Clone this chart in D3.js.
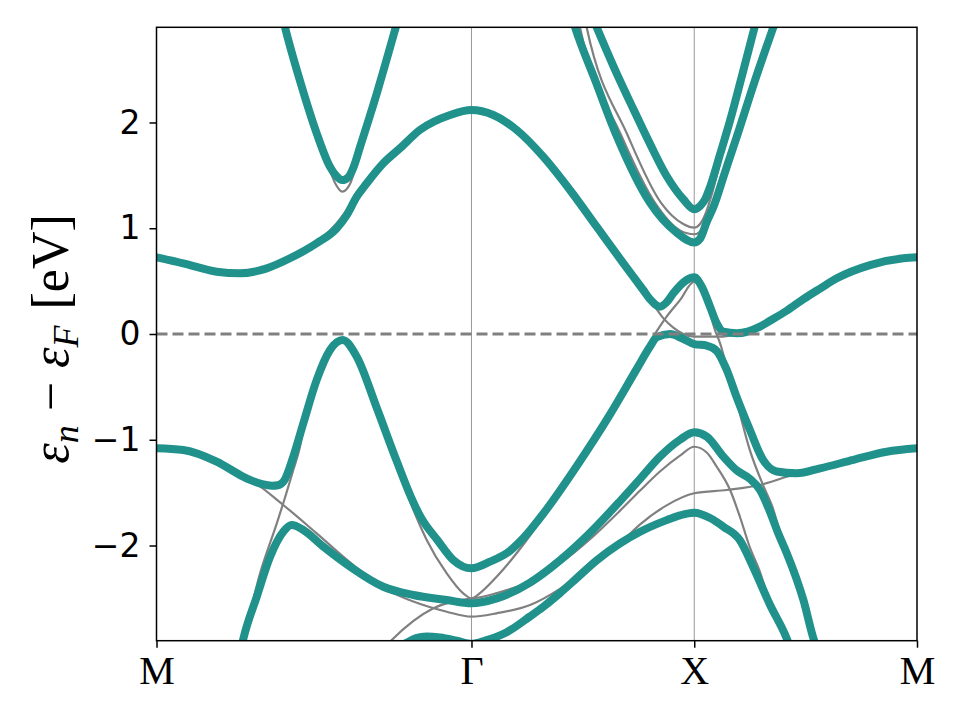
<!DOCTYPE html>
<html><head><meta charset="utf-8">
<script src="https://cdn.jsdelivr.net/npm/d3@7"></script>
<style>body{margin:0;background:#fff}</style>
</head><body>
<svg id="chart" width="960" height="720"></svg>
<script>
// ---- axis data ----
const kLabels = ["M", "Γ", "X", "M"];
const kPositions = [0, 1.414, 2.414, 3.414];
const yTickValues = [-2, -1, 0, 1, 2];
const energyRange = [-2.9, 2.9];
const fermiLevel = 0;

// ---- bare (gray) bands: [k, E] ----
const grayUpperV = [[0.570,2.96],[0.577,2.90],[0.652,2.339],[0.719,1.898],[0.770,1.60],[0.801,1.43],[0.834,1.346],[0.869,1.42],[0.900,1.62],[0.989,2.276],[1.074,2.90],[1.082,2.96]];
const grayBand1 = [[0,0.725],[0.120,0.668],[0.270,0.589],[0.375,0.574],[0.495,0.621],[0.599,0.716],[0.719,0.862],[0.809,1.047],[0.854,1.17],[0.899,1.29],[0.944,1.42],[1.018,1.61],[1.093,1.75],[1.183,1.92],[1.318,2.055],[1.414,2.095],[1.512,2.055],[1.617,1.915],[1.736,1.665],[1.856,1.35],[1.976,1.005],[2.096,0.66],[2.185,0.41],[2.230,0.28],[2.275,0.15],[2.320,0.06],[2.365,0.0],[2.414,-0.025],[2.530,-0.025],[2.605,0.0],[2.709,0.07],[2.754,0.125],[2.829,0.22],[2.904,0.33],[2.979,0.43],[3.054,0.527],[3.203,0.652],[3.353,0.716],[3.414,0.725]];
const grayBandC = [[0.379,-2.95],[0.390,-2.88],[0.465,-2.263],[0.540,-1.79],[0.569,-1.60],[0.614,-1.286],[0.644,-1.066],[0.659,-0.90],[0.719,-0.45],[0.779,-0.16],[0.836,-0.065],[0.899,-0.225],[0.989,-0.72],[1.078,-1.22],[1.138,-1.58],[1.213,-1.947],[1.303,-2.263],[1.377,-2.452],[1.414,-2.50],[1.452,-2.45],[1.527,-2.295],[1.662,-1.948],[1.736,-1.728],[1.856,-1.35],[1.976,-0.971],[2.081,-0.60],[2.156,-0.32],[2.201,-0.13],[2.253,0.05],[2.290,0.164],[2.350,0.32],[2.414,0.495],[2.448,0.416],[2.485,0.196],[2.507,0.038],[2.530,-0.088],[2.552,-0.246],[2.606,-0.65],[2.664,-1.10],[2.723,-1.43],[2.769,-1.66],[2.814,-2.0],[2.871,-2.35],[2.904,-2.55],[2.949,-2.88],[2.965,-2.97]];
const grayBandD = [[1.030,-2.95],[1.056,-2.894],[1.243,-2.594],[1.414,-2.50],[1.452,-2.49],[1.527,-2.45],[1.677,-2.34],[1.811,-2.17],[1.946,-1.94],[2.081,-1.67],[2.171,-1.48],[2.260,-1.30],[2.350,-1.15],[2.414,-1.066],[2.470,-1.12],[2.515,-1.255],[2.575,-1.475],[2.619,-1.728],[2.664,-2.02],[2.709,-2.25],[2.754,-2.55],[2.829,-2.878],[2.844,-2.96]];
const grayBandE = [[0,-1.081],[0.120,-1.097],[0.270,-1.207],[0.390,-1.35],[0.420,-1.38],[0.569,-1.617],[0.719,-1.885],[0.869,-2.16],[1.018,-2.40],[1.153,-2.53],[1.303,-2.626],[1.414,-2.673],[1.527,-2.641],[1.677,-2.563],[1.811,-2.41],[1.946,-2.20],[2.081,-1.98],[2.171,-1.80],[2.290,-1.62],[2.414,-1.506],[2.560,-1.475],[2.709,-1.428],[2.829,-1.35],[2.934,-1.286],[2.979,-1.27],[3.128,-1.19],[3.278,-1.113],[3.414,-1.081]];
const grayXV1 = [[1.925,2.96],[1.931,2.90],[2.117,1.87],[2.265,1.24],[2.365,1.04],[2.414,1.005],[2.440,1.04],[2.467,1.15],[2.494,1.33],[2.530,1.62],[2.575,2.0],[2.628,2.42],[2.691,2.95]];
const grayXV2 = [[1.895,2.96],[1.901,2.90],[2.088,1.87],[2.238,1.24],[2.350,0.98],[2.414,0.943],[2.440,0.97],[2.470,1.07],[2.500,1.20],[2.552,1.53],[2.605,1.866],[2.687,2.40],[2.769,2.90],[2.779,2.96]];

// ---- dressed (teal) bands: [k, E] ----
const tealUpperV = [[0.570,2.96],[0.577,2.90],[0.652,2.339],[0.719,1.898],[0.779,1.58],[0.809,1.49],[0.834,1.455],[0.860,1.48],[0.885,1.58],[0.914,1.771],[0.989,2.276],[1.074,2.90],[1.082,2.96]];
const tealBand2 = [[0,0.725],[0.120,0.668],[0.270,0.589],[0.375,0.574],[0.495,0.621],[0.599,0.716],[0.719,0.858],[0.809,1.0],[0.854,1.125],[0.899,1.298],[0.944,1.425],[1.018,1.614],[1.093,1.756],[1.183,1.93],[1.318,2.071],[1.414,2.118],[1.512,2.071],[1.617,1.929],[1.736,1.677],[1.856,1.362],[1.976,1.015],[2.096,0.668],[2.185,0.416],[2.215,0.33],[2.260,0.258],[2.290,0.30],[2.320,0.385],[2.380,0.511],[2.414,0.536],[2.448,0.447],[2.485,0.258],[2.515,0.101],[2.545,0.022],[2.605,0.007],[2.709,0.07],[2.754,0.125],[2.829,0.22],[2.904,0.33],[2.979,0.43],[3.054,0.527],[3.203,0.652],[3.353,0.716],[3.414,0.725]];
const tealBand3 = [[0,-1.081],[0.120,-1.097],[0.270,-1.207],[0.390,-1.35],[0.420,-1.38],[0.474,-1.42],[0.519,-1.435],[0.545,-1.43],[0.572,-1.39],[0.614,-1.16],[0.659,-0.845],[0.719,-0.435],[0.779,-0.151],[0.836,-0.057],[0.899,-0.215],[0.989,-0.70],[1.078,-1.20],[1.138,-1.52],[1.183,-1.72],[1.265,-1.96],[1.332,-2.137],[1.414,-2.216],[1.497,-2.153],[1.587,-2.05],[1.647,-1.93],[1.736,-1.70],[1.886,-1.25],[2.036,-0.76],[2.156,-0.33],[2.215,-0.12],[2.246,-0.03],[2.305,0.0],[2.359,-0.04],[2.414,-0.095],[2.470,-0.11],[2.515,-0.16],[2.560,-0.34],[2.605,-0.60],[2.664,-0.908],[2.723,-1.19],[2.784,-1.30],[2.874,-1.317],[2.979,-1.27],[3.128,-1.19],[3.278,-1.113],[3.414,-1.081]];
const tealBand4 = [[0.379,-2.98],[0.390,-2.88],[0.450,-2.484],[0.510,-2.106],[0.569,-1.87],[0.607,-1.806],[0.659,-1.853],[0.749,-2.011],[0.869,-2.2],[1.018,-2.39],[1.153,-2.468],[1.303,-2.515],[1.414,-2.547],[1.527,-2.50],[1.677,-2.35],[1.811,-2.14],[1.946,-1.88],[2.081,-1.58],[2.171,-1.37],[2.260,-1.16],[2.350,-1.00],[2.414,-0.93],[2.470,-0.97],[2.545,-1.16],[2.605,-1.29],[2.664,-1.37],[2.709,-1.475],[2.754,-1.68],[2.790,-1.88],[2.829,-2.07],[2.904,-2.515],[2.949,-2.878],[2.965,-2.98]];
const tealBand5 = [[1.080,-2.98],[1.093,-2.95],[1.123,-2.92],[1.165,-2.875],[1.213,-2.86],[1.273,-2.87],[1.348,-2.9],[1.414,-2.93],[1.475,-2.90],[1.572,-2.82],[1.677,-2.67],[1.736,-2.58],[1.811,-2.45],[1.886,-2.31],[1.976,-2.14],[2.081,-1.98],[2.171,-1.87],[2.290,-1.76],[2.350,-1.715],[2.414,-1.69],[2.485,-1.74],[2.545,-1.822],[2.619,-1.95],[2.678,-2.2],[2.754,-2.56],[2.829,-2.878],[2.844,-2.96]];
const tealXV1 = [[1.964,2.96],[1.976,2.90],[2.058,2.5],[2.141,2.125],[2.215,1.80],[2.290,1.494],[2.365,1.274],[2.414,1.18],[2.440,1.21],[2.462,1.27],[2.485,1.39],[2.530,1.70],[2.575,2.02],[2.628,2.44],[2.691,2.95]];
const tealXV2 = [[1.870,2.96],[1.879,2.90],[1.969,2.4],[2.066,1.872],[2.215,1.242],[2.335,0.958],[2.414,0.865],[2.440,0.90],[2.470,1.06],[2.500,1.20],[2.552,1.53],[2.605,1.866],[2.687,2.40],[2.769,2.90],[2.779,2.96]];

const grayBands = [grayUpperV, grayBand1, grayBandC, grayBandD, grayBandE, grayXV1, grayXV2];
const tealBands = [tealUpperV, tealBand2, tealBand3, tealBand4, tealBand5, tealXV1, tealXV2];

// ---- drawing ----
const svg = d3.select("#chart");
const pL = 156.5, pR = 917, pT = 27.3, pB = 640.7;
const x = d3.scaleLinear().domain([kPositions[0], kPositions[kPositions.length - 1]]).range([pL, pR]);
const y = d3.scaleLinear().domain(energyRange).range([pB, pT]);

svg.append("defs").append("clipPath").attr("id", "plotclip")
  .append("rect").attr("x", pL).attr("y", pT).attr("width", pR - pL).attr("height", pB - pT);

const plot = svg.append("g").attr("clip-path", "url(#plotclip)");

plot.selectAll("line.sym").data(kPositions.slice(1, -1)).enter().append("line")
  .attr("class", "sym").attr("x1", d => x(d)).attr("x2", d => x(d))
  .attr("y1", pT).attr("y2", pB).attr("stroke", "#999").attr("stroke-width", 1);

const line = d3.line().x(d => x(d[0])).y(d => y(d[1])).curve(d3.curveMonotoneX);

plot.selectAll("path.gray").data(grayBands).enter().append("path")
  .attr("class", "gray").attr("d", line).attr("fill", "none")
  .attr("stroke", "#808080").attr("stroke-width", 2.2);

plot.selectAll("path.teal").data(tealBands).enter().append("path")
  .attr("class", "teal").attr("d", line).attr("fill", "none")
  .attr("stroke", "#21918c").attr("stroke-width", 8).attr("stroke-linecap", "round").attr("stroke-linejoin", "round");

plot.append("line").attr("x1", pL).attr("x2", pR)
  .attr("y1", y(fermiLevel)).attr("y2", y(fermiLevel))
  .attr("stroke", "#808080").attr("stroke-width", 2.8).attr("stroke-dasharray", "11,5");

const yAxis = d3.axisLeft(y).tickValues(yTickValues).tickSize(7).tickPadding(9)
  .tickFormat(d => d < 0 ? "\u2212" + Math.abs(d) : String(d));
const gy = svg.append("g").attr("transform", `translate(${pL},0)`).call(yAxis);
gy.select(".domain").remove();
gy.selectAll(".tick line").attr("stroke", "#000").attr("stroke-width", 1.5);
gy.selectAll(".tick text").attr("font-family", "DejaVu Sans").attr("font-size", 33).attr("fill", "#000");

const xAxis = d3.axisBottom(x).tickValues(kPositions).tickSize(7).tickPadding(8)
  .tickFormat((d, i) => kLabels[i]);
const gx = svg.append("g").attr("transform", `translate(0,${pB})`).call(xAxis);
gx.select(".domain").remove();
gx.selectAll(".tick line").attr("stroke", "#000").attr("stroke-width", 1.5);
gx.selectAll(".tick text").attr("font-family", "Liberation Serif").attr("font-size", 40).attr("fill", "#000");

svg.append("rect").attr("x", pL).attr("y", pT).attr("width", pR - pL).attr("height", pB - pT)
  .attr("fill", "none").attr("stroke", "#000").attr("stroke-width", 1.5);

const ylab = svg.append("text").attr("transform", "translate(68,339) rotate(-90)")
  .attr("text-anchor", "middle").attr("font-family", "Liberation Serif").attr("font-size", 52).attr("fill", "#000");
ylab.append("tspan").attr("font-style", "italic").text("ε");
ylab.append("tspan").attr("font-style", "italic").attr("font-size", 36).attr("dy", 10).text("n");
ylab.append("tspan").attr("dy", -10).attr("dx", 14).text("\u2212");
ylab.append("tspan").attr("dx", 14).attr("font-style", "italic").text("ε");
ylab.append("tspan").attr("font-style", "italic").attr("font-size", 36).attr("dy", 10).text("F");
ylab.append("tspan").attr("dy", -10).attr("dx", 16).text("[eV]");
</script>
</body></html>
